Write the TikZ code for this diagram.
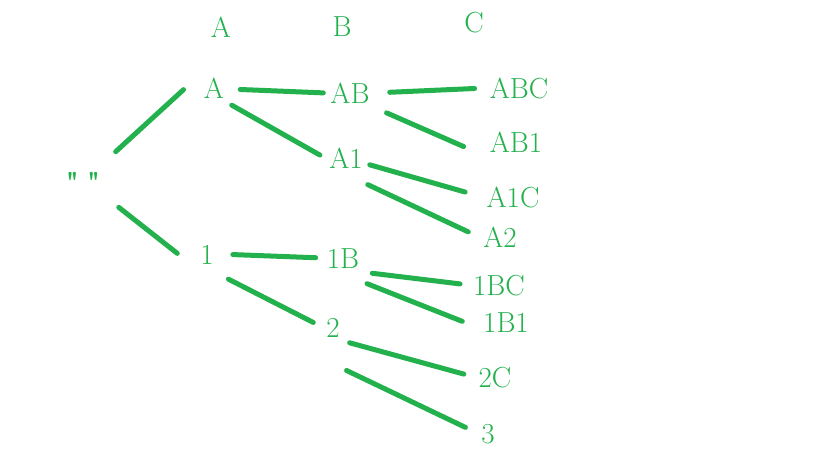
\documentclass[tikz,border=0pt]{standalone}
\usepackage{fontspec}
\usepackage{tikz}
\usepackage{xcolor}
\usetikzlibrary{positioning}

\newfontfamily\lmplain{Latin Modern Roman}[Ligatures=TeXOff]
\definecolor{paintgreen}{RGB}{34,177,76}
\tikzset{
  word/.style={anchor=base, inner sep=4pt, text height=20pt, text depth=0pt,
    text=paintgreen, font=\fontsize{29}{30}\selectfont},
  link/.style={draw=paintgreen, line width=5pt, line cap=round},
}

\begin{document}
\begin{tikzpicture}[x=1pt, y=-1pt]
  \useasboundingbox[fill=white] (0,0) rectangle (819,460);

  % column heads
  \node[word] (hA) at (221,38) {A};
  \node[word] (hB) at (342,37) {B};
  \node[word] (hC) at (474,33) {C};

  % tree
  \node[word] (root) at (83,192) {\lmplain\bfseries "\hspace{8pt}"};
  \node[word] (A) at (214,99) {A};
  \node[word] (n1) at (207,264) {1};
  \node[word] (AB) at (350,103) {AB};
  \node[word] (A1) at (346,168) {A1};
  \node[word] (n1B) at (343,268) {1B};
  \node[word] (n2) at (333,337) {2};
  \node[word] (ABC) at (519,98) {ABC};
  \node[word] (AB1) at (516,152) {AB1};
  \node[word] (A1C) at (513,207) {A1C};
  \node[word] (A2) at (500,247) {A2};
  \node[word] (n1BC) at (499,295) {1BC};
  \node[word] (n1B1) at (506,332) {1B1};
  \node[word] (n2C) at (495,387) {2C};
  \node[word] (n3) at (488,443) {3};

  \draw[link, shorten <=15pt, shorten >=22pt] ([yshift=6pt]root.north east) -- (A.north west);
  \draw[link, shorten <=18pt, shorten >=24pt] (root.south east) -- (n1.south west);

  \draw[link, shorten <=12pt, shorten >=3pt] (A.east) -- (AB.west);
  \draw[link, shorten <=4pt, shorten >=6pt] (A.south east) -- (A1.west);
  \draw[link, shorten <=15pt, shorten >=7pt] (n1.east) -- (n1B.west);
  \draw[link, shorten <=24pt, shorten >=10pt] (n1.south) -- (n2.west);

  \draw[link, shorten <=16pt, shorten >=11pt] (AB.east) -- (ABC.west);
  \draw[link, shorten <=14pt, shorten >=24pt] (AB.south east) -- (AB1.south west);
  \draw[link, shorten <=3pt, shorten >=18pt] ([yshift=-6pt]A1.east) -- (A1C.west);
  \draw[link, shorten <=1pt, shorten >=12pt] ([yshift=-12pt]A1.south east) -- (A2.west);
  \draw[link, shorten <=9pt, shorten >=9pt] (n1B.south east) -- (n1BC.west);
  \draw[link, shorten <=4pt, shorten >=18pt] ([yshift=-10pt]n1B.south east) -- ([yshift=-6pt]n1B1.west);
  \draw[link, shorten <=6pt, shorten >=11pt] (n2.south east) -- (n2C.west);
  \draw[link, shorten <=3pt, shorten >=13pt] ([yshift=-28pt]n2.south east) -- (n3.west);
\end{tikzpicture}
\end{document}
